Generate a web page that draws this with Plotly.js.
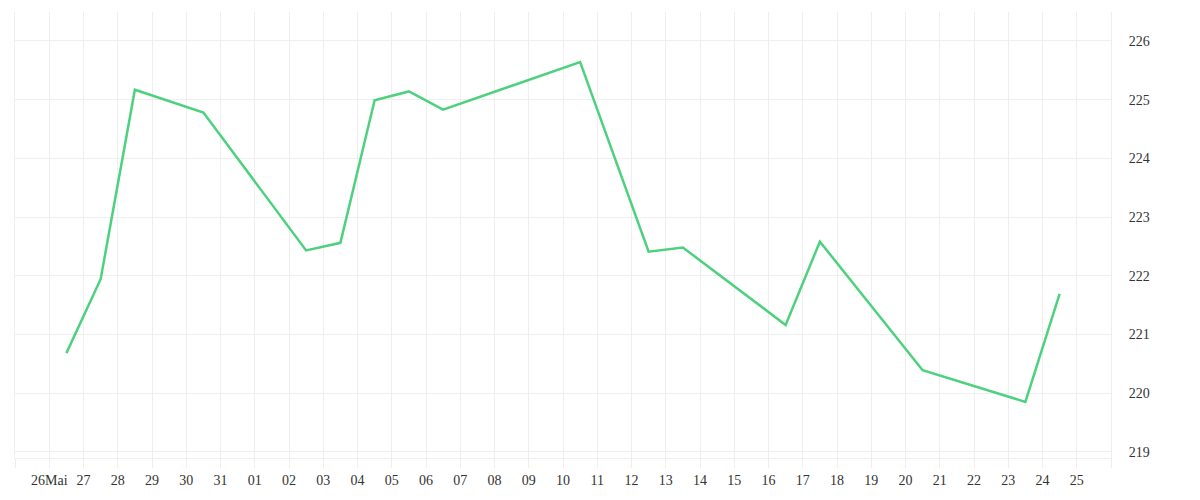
<!DOCTYPE html>
<html>
<head>
<meta charset="utf-8">
<script src="https://cdn.plot.ly/plotly-3.0.1.min.js"></script>
<style>html,body{margin:0;padding:0;background:#fff;}#chart{width:1200px;height:500px;}</style>
</head>
<body>
<div id="chart"></div>
<script>
// Data (German labels, dates at midday)
const dates = [
  "2025-05-26 12:00", "2025-05-27 12:00", "2025-05-28 12:00", "2025-05-30 12:00",
  "2025-06-02 12:00", "2025-06-03 12:00", "2025-06-04 12:00", "2025-06-05 12:00",
  "2025-06-06 12:00", "2025-06-10 12:00", "2025-06-12 12:00", "2025-06-13 12:00",
  "2025-06-16 12:00", "2025-06-17 12:00", "2025-06-20 12:00", "2025-06-23 12:00",
  "2025-06-24 12:00"
];
const values = [
  220.68, 221.94, 225.17, 224.78,
  222.43, 222.56, 224.99, 225.14,
  224.83, 225.64, 222.41, 222.48,
  221.16, 222.58, 220.39, 219.85,
  221.69
];
const tickDates = [
  "2025-05-25","2025-05-26","2025-05-27","2025-05-28","2025-05-29","2025-05-30","2025-05-31",
  "2025-06-01","2025-06-02","2025-06-03","2025-06-04","2025-06-05","2025-06-06","2025-06-07",
  "2025-06-08","2025-06-09","2025-06-10","2025-06-11","2025-06-12","2025-06-13","2025-06-14",
  "2025-06-15","2025-06-16","2025-06-17","2025-06-18","2025-06-19","2025-06-20","2025-06-21",
  "2025-06-22","2025-06-23","2025-06-24","2025-06-25","2025-06-26"
];
const tickLabels = [
  "","26Mai","27","28","29","30","31",
  "01","02","03","04","05","06","07",
  "08","09","10","11","12","13","14",
  "15","16","17","18","19","20","21",
  "22","23","24","25",""
];
const yTicks = [219, 220, 221, 222, 223, 224, 225, 226];

const gridColor = "#efefef";
const font = {family: "Liberation Serif, serif", size: 14, color: "#333"};

Plotly.newPlot("chart", [{
  x: dates, y: values, type: "scatter", mode: "lines",
  line: {color: "#4ed17e", width: 2.5},
  hoverinfo: "none"
}], {
  width: 1200, height: 500,
  margin: {l: 15, r: 89, t: 12, b: 42},
  paper_bgcolor: "#fff", plot_bgcolor: "#fff",
  showlegend: false,
  font: font,
  xaxis: {
    type: "date",
    range: ["2025-05-25", "2025-06-26"],
    tickmode: "array", tickvals: tickDates, ticktext: tickLabels,
    showgrid: true, gridcolor: gridColor, gridwidth: 1,
    ticks: "outside", ticklen: 9, tickcolor: gridColor, tickwidth: 1,
    showline: true, linecolor: gridColor, linewidth: 1,
    zeroline: false, tickfont: font, tickangle: 0
  },
  yaxis: {
    side: "right",
    range: [218.893, 226.494],
    tickmode: "array", tickvals: yTicks,
    showgrid: true, gridcolor: gridColor, gridwidth: 1,
    showline: true, mirror: true, linecolor: gridColor, linewidth: 1,
    ticks: "", ticklabelstandoff: 14,
    zeroline: false, tickfont: font
  }
}, {staticPlot: true, displayModeBar: false});
</script>
</body>
</html>
